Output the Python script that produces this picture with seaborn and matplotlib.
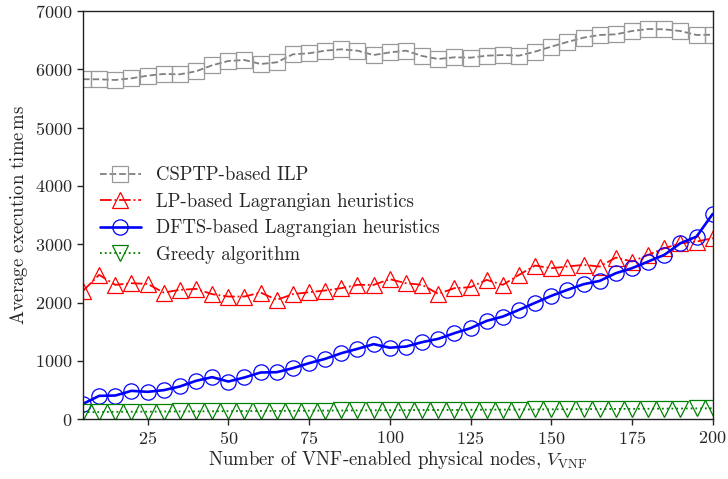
import pandas as pd
import matplotlib
matplotlib.use("Agg")
import matplotlib.pyplot as plt
import seaborn as sns

nodes = list(range(5, 201, 5))

csptp_ilp = [5830, 5829, 5817, 5846, 5891, 5920, 5914, 5966, 6069, 6143,
             6160, 6091, 6120, 6257, 6275, 6320, 6343, 6320, 6245, 6290,
             6320, 6229, 6177, 6206, 6200, 6234, 6245, 6234, 6303, 6389,
             6469, 6543, 6589, 6600, 6657, 6691, 6686, 6657, 6589, 6594]

lp_lagr = [2200, 2474, 2303, 2331, 2320, 2171, 2217, 2234, 2143, 2103,
           2103, 2171, 2046, 2143, 2177, 2206, 2246, 2303, 2303, 2400,
           2331, 2303, 2148, 2246, 2263, 2388, 2303, 2474, 2634, 2589,
           2617, 2646, 2617, 2771, 2703, 2817, 2931, 3017, 3045, 3103]

dfts_lagr = [262, 399, 405, 485, 468, 497, 560, 657, 720, 645,
             714, 800, 805, 874, 960, 1034, 1131, 1205, 1286, 1225,
             1245, 1320, 1377, 1474, 1560, 1685, 1759, 1874, 1995, 2114,
             2217, 2314, 2371, 2503, 2589, 2703, 2817, 3017, 3131, 3520]

greedy = [120, 122, 125, 127, 128, 130, 132, 133, 135, 137,
          138, 140, 141, 143, 145, 146, 148, 150, 151, 152,
          154, 156, 157, 158, 160, 162, 163, 165, 166, 168,
          170, 171, 173, 175, 176, 178, 180, 182, 184, 186]

labels = ["CSPTP-based ILP", "LP-based Lagrangian heuristics",
          "DFTS-based Lagrangian heuristics", "Greedy algorithm"]

sns.set_style("ticks")
plt.rcParams["font.family"] = ["cmr10", "DejaVu Serif"]
plt.rcParams["mathtext.fontset"] = "cm"
plt.rcParams["axes.unicode_minus"] = False
plt.rcParams["axes.formatter.use_mathtext"] = True

fig = plt.figure(figsize=(7.28, 4.79), dpi=100)
ax = fig.add_axes([0.114, 0.125, 0.865, 0.852])

# Серии: данные, цвет линии, цвет маркера, маркер, стиль линии, толщина
series = [
    (csptp_ilp, "#808080", "#999999", "s", "--", 1.3),
    (lp_lagr, "red", "red", "^", "-.", 1.3),
    (dfts_lagr, "blue", "blue", "o", "-", 1.9),
    (greedy, "green", "green", "v", ":", 1.3),
]

for (vals, lc, mc, mk, ls, lw), lab in zip(series, labels):
    df = pd.DataFrame({"nodes": nodes, "time": vals})
    sns.lineplot(
        data=df, x="nodes", y="time", ax=ax, label=lab,
        color=lc, linestyle=ls, linewidth=lw,
        marker=mk, markersize=11, markerfacecolor="none",
        markeredgecolor=mc, markeredgewidth=0.9, alpha=1.0,
    )

ax.set_xlim(5, 200)
ax.set_ylim(0, 7000)
ax.set_xticks([25, 50, 75, 100, 125, 150, 175, 200])
ax.set_yticks(range(0, 7001, 1000))
ax.tick_params(labelsize=13, direction="out", length=4, width=1)
for sp in ax.spines.values():
    sp.set_linewidth(1.0)
    sp.set_color("#222222")

ax.set_xlabel(r"Number of VNF-enabled physical nodes, $V_{\mathrm{VNF}}$", fontsize=13.5, labelpad=2)
ax.set_ylabel(r"Average execution time$\,$ms", fontsize=13.5)

ax.legend(loc="center left", bbox_to_anchor=(0.0, 0.5), frameon=False,
          fontsize=13.5, handlelength=2.2, labelspacing=0.45)

fig.savefig("out.png", dpi=100)
